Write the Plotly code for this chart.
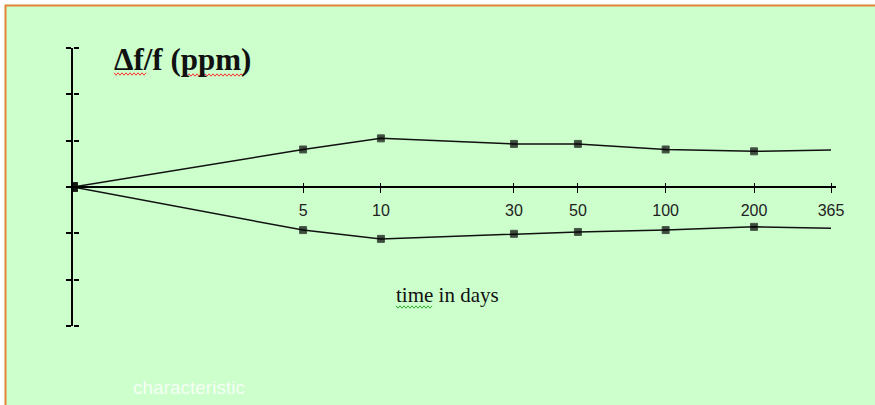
import numpy as np
import plotly.graph_objects as go

# ---- data ----
days = [0, 5, 10, 30, 50, 100, 200, 365]
upper = [0.0, 0.81, 1.05, 0.93, 0.93, 0.81, 0.77, 0.80]
lower = [0.0, -0.93, -1.12, -1.01, -0.97, -0.93, -0.86, -0.89]
tick_days = [5, 10, 30, 50, 100, 200, 365]
tick_text = [str(d) for d in tick_days]
y_ticks = [-3, -2, -1, 0, 1, 2, 3]
marker_sizes = [9, 7, 7, 7, 7, 7, 7, 0]

W, H = 875, 405
ML, MR, MT, MB = 73, 39, 48, 79
PW = W - ML - MR
PH = H - MT - MB

def px(x):
    return (x - ML) / PW

def py(y):
    return (H - MB - y) / PH

xv = [d + 1 for d in days]          # shifted so day 0 fits on a log axis
xt = [d + 1 for d in tick_days]
x_range = [0, np.log10(366) * 763 / 758]

GREEN = "#CCFFCC"
LINE = "#111111"
ORANGE = "#E4853A"

fig = go.Figure()
for series in (upper, lower):
    fig.add_trace(go.Scatter(
        x=xv, y=series, mode="lines+markers",
        line=dict(color=LINE, width=1.5),
        marker=dict(symbol="square", size=marker_sizes, color="#000000"),
        hoverinfo="skip", showlegend=False))

# dummy trace so the overlay axes (for crossing ticks) get drawn
fig.add_trace(go.Scatter(x=[1], y=[0], xaxis="x2", yaxis="y2", mode="markers",
                         marker=dict(opacity=0), hoverinfo="skip", showlegend=False))

common_x = dict(type="log", range=x_range, tickvals=xt, showgrid=False, zeroline=False)
fig.update_layout(
    width=W, height=H,
    margin=dict(l=ML, r=MR, t=MT, b=MB),
    paper_bgcolor=GREEN, plot_bgcolor=GREEN,
    xaxis=dict(**common_x, ticktext=tick_text, anchor="free", position=0.5,
               showline=True, linecolor="#000000", linewidth=2,
               ticks="outside", ticklen=5, tickwidth=1, tickcolor="#000000",
               tickfont=dict(family="Liberation Sans", size=16, color="#222222"),
               ticklabelstandoff=4),
    xaxis2=dict(**common_x, overlaying="x", side="top", anchor="free", position=0.5,
                showline=False, showticklabels=False,
                ticks="outside", ticklen=4, tickwidth=1, tickcolor="#000000"),
    yaxis=dict(range=[-3, 3], tickvals=y_ticks, showgrid=False, zeroline=False,
               showline=True, linecolor="#000000", linewidth=2,
               showticklabels=False, ticks="outside", ticklen=5, tickwidth=1.5,
               tickcolor="#000000"),
    yaxis2=dict(range=[-3, 3], tickvals=y_ticks, overlaying="y", side="right",
                anchor="free", position=0, showgrid=False, zeroline=False,
                showline=False, showticklabels=False, ticks="outside", ticklen=5,
                tickwidth=1.5, tickcolor="#000000"),
)

# page frame: white strip and orange edge on top and left
shapes = [
    dict(type="rect", xref="paper", yref="paper", x0=px(0), x1=px(W + 20), y0=py(0), y1=py(4.5),
         fillcolor="#FFFFFF", line=dict(width=0), layer="below"),
    dict(type="rect", xref="paper", yref="paper", x0=px(0), x1=px(4.5), y0=py(0), y1=py(H),
         fillcolor="#FFFFFF", line=dict(width=0), layer="below"),
    dict(type="line", xref="paper", yref="paper", x0=px(5), x1=px(W + 20), y0=py(5.5), y1=py(5.5),
         line=dict(color=ORANGE, width=2)),
    dict(type="line", xref="paper", yref="paper", x0=px(5.5), x1=px(5.5), y0=py(5), y1=py(H),
         line=dict(color=ORANGE, width=2)),
]

def squiggle(x0, x1, y, color):
    pts = []
    n = int((x1 - x0) / 2)
    for i in range(n + 1):
        xx = x0 + i * 2
        yy = y + (1.2 if i % 2 else -1.2)
        pts.append(f"{px(xx):.5f},{py(yy):.5f}")
    return dict(type="path", xref="paper", yref="paper",
                path="M" + " L".join(pts), line=dict(color=color, width=1))

shapes += [squiggle(114, 146, 74, "#FF3030"),
           squiggle(185, 245, 75, "#FF3030"),
           squiggle(396, 432, 307, "#33AA33")]
fig.update_layout(shapes=shapes)

fig.add_annotation(text="<b>Δf/f (ppm)</b>", xref="paper", yref="paper",
                   x=px(112), y=py(60), xanchor="left", yanchor="middle", showarrow=False,
                   font=dict(family="Liberation Serif", size=31, color="#111111"))
fig.add_annotation(text="time in days", xref="paper", yref="paper",
                   x=px(394), y=py(295), xanchor="left", yanchor="middle", showarrow=False,
                   font=dict(family="Liberation Serif", size=21, color="#111111"))
fig.add_annotation(text="characteristic", xref="paper", yref="paper",
                   x=px(189), y=py(387), xanchor="center", yanchor="middle", showarrow=False,
                   font=dict(family="Liberation Sans", size=19, color="#F4FFF4"))

fig.write_html("out.html", config={"displayModeBar": False},
               post_script="document.documentElement.style.overflow='hidden';"
                           "document.body.style.margin='0px';document.body.style.overflow='hidden';")
